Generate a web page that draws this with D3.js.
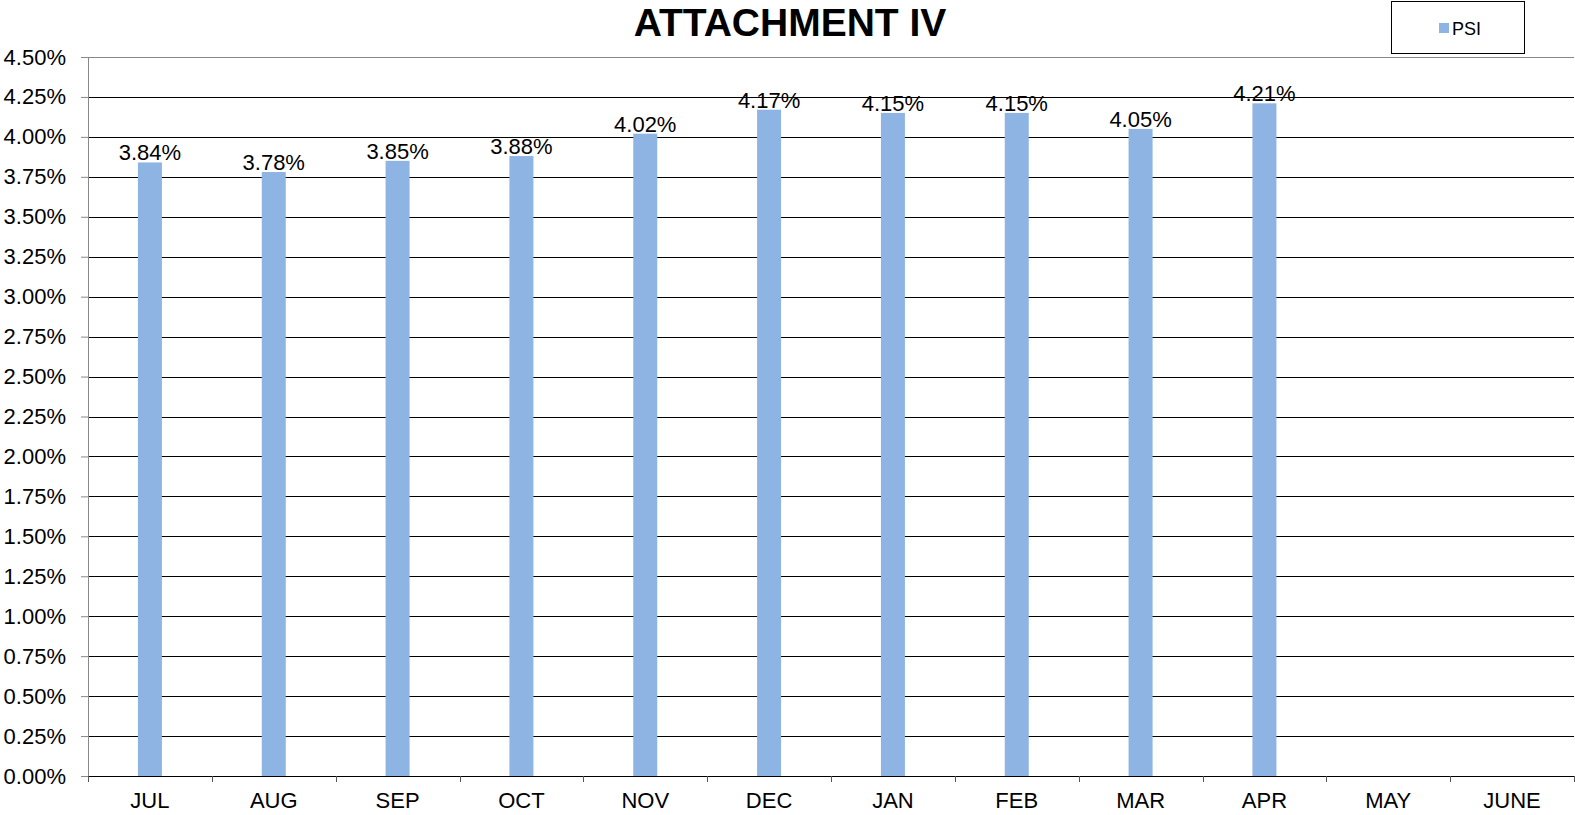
<!DOCTYPE html>
<html>
<head>
<meta charset="utf-8">
<script src="https://cdn.jsdelivr.net/npm/d3@7"></script>
<style>
  body { margin: 0; background: #fff; }
  svg { display: block; font-family: Arial, "Liberation Sans", sans-serif; }
</style>
</head>
<body>
<div id="chart"></div>
<script>
// Chart data
const months = ["JUL", "AUG", "SEP", "OCT", "NOV", "DEC", "JAN", "FEB", "MAR", "APR", "MAY", "JUNE"];
const psi = [3.84, 3.78, 3.85, 3.88, 4.02, 4.17, 4.15, 4.15, 4.05, 4.21, null, null];
const yTicks = d3.range(0, 4.51, 0.25);

const width = 1575, height = 815;
const margin = { top: 57, right: 1, bottom: 39, left: 88 };
const innerW = width - margin.left - margin.right;
const innerH = height - margin.top - margin.bottom;

const svg = d3.select("#chart").append("svg")
  .attr("width", width)
  .attr("height", height);

const chart = svg.append("g")
  .attr("transform", `translate(${margin.left},${margin.top})`);

const x = d3.scaleBand().domain(months).range([0, innerW]);
const y = d3.scaleLinear().domain([0, 4.5]).range([innerH, 0]);

// Gridlines
chart.append("g")
  .selectAll("line")
  .data(yTicks.filter(d => d > 0))
  .join("line")
  .attr("x1", 0)
  .attr("x2", innerW)
  .attr("y1", d => Math.round(y(d)) + 0.5)
  .attr("y2", d => Math.round(y(d)) + 0.5)
  .attr("stroke", d => d === 4.5 ? "#888" : "#000")
  .attr("stroke-width", 1);

// Y axis
const yAxis = d3.axisLeft(y)
  .tickValues(yTicks)
  .tickSize(7)
  .tickPadding(15)
  .tickFormat(d => d.toFixed(2) + "%");
chart.append("g")
  .call(yAxis)
  .call(g => g.select(".domain").attr("stroke", "#888"))
  .call(g => g.selectAll(".tick line").attr("stroke", "#888"))
  .call(g => g.selectAll("text")
    .attr("fill", "#000")
    .style("font-size", "22px")
    .style("font-family", "Arial, 'Liberation Sans', sans-serif"));

const bars = months.map((m, i) => ({ m, v: psi[i] })).filter(d => d.v != null);

// Bars
const barW = 24;
chart.append("g")
  .selectAll("rect")
  .data(bars)
  .join("rect")
  .attr("x", d => x(d.m) + x.bandwidth() / 2 - barW / 2)
  .attr("y", d => y(d.v))
  .attr("width", barW)
  .attr("height", d => innerH - y(d.v))
  .attr("fill", "#8eb4e3");

// Data labels
chart.append("g")
  .selectAll("text")
  .data(bars)
  .join("text")
  .attr("x", d => x(d.m) + x.bandwidth() / 2)
  .attr("y", d => y(d.v) - 2)
  .attr("text-anchor", "middle")
  .style("font-size", "22px")
  .attr("fill", "#000")
  .text(d => d.v.toFixed(2) + "%");

// X axis
const xTickPos = d3.range(months.length + 1).map(i => i * x.bandwidth());
const xg = chart.append("g").attr("transform", `translate(0,${innerH})`);
xg.append("line")
  .attr("x1", 0).attr("x2", innerW)
  .attr("y1", 0.5).attr("y2", 0.5)
  .attr("stroke", "#000");
xg.selectAll(".tk")
  .data(xTickPos)
  .join("line")
  .attr("class", "tk")
  .attr("x1", d => Math.round(d) + 0.5)
  .attr("x2", d => Math.round(d) + 0.5)
  .attr("y1", 0)
  .attr("y2", 6)
  .attr("stroke", "#555");
xg.selectAll("text")
  .data(months)
  .join("text")
  .attr("x", d => x(d) + x.bandwidth() / 2)
  .attr("y", 32)
  .attr("text-anchor", "middle")
  .style("font-size", "22px")
  .attr("fill", "#000")
  .text(d => d);

// Title
svg.append("text")
  .attr("x", 790)
  .attr("y", 36)
  .attr("text-anchor", "middle")
  .style("font-size", "39px")
  .style("font-weight", "bold")
  .text("ATTACHMENT IV");

// Legend
const lg = svg.append("g").attr("transform", "translate(1391,1)");
lg.append("rect")
  .attr("x", 0.5).attr("y", 0.5)
  .attr("width", 133).attr("height", 52)
  .attr("fill", "#fff")
  .attr("stroke", "#000");
lg.append("rect")
  .attr("x", 48).attr("y", 22)
  .attr("width", 10).attr("height", 10)
  .attr("fill", "#8eb4e3");
lg.append("text")
  .attr("x", 61).attr("y", 34)
  .style("font-size", "18px")
  .text("PSI");
</script>
</body>
</html>
